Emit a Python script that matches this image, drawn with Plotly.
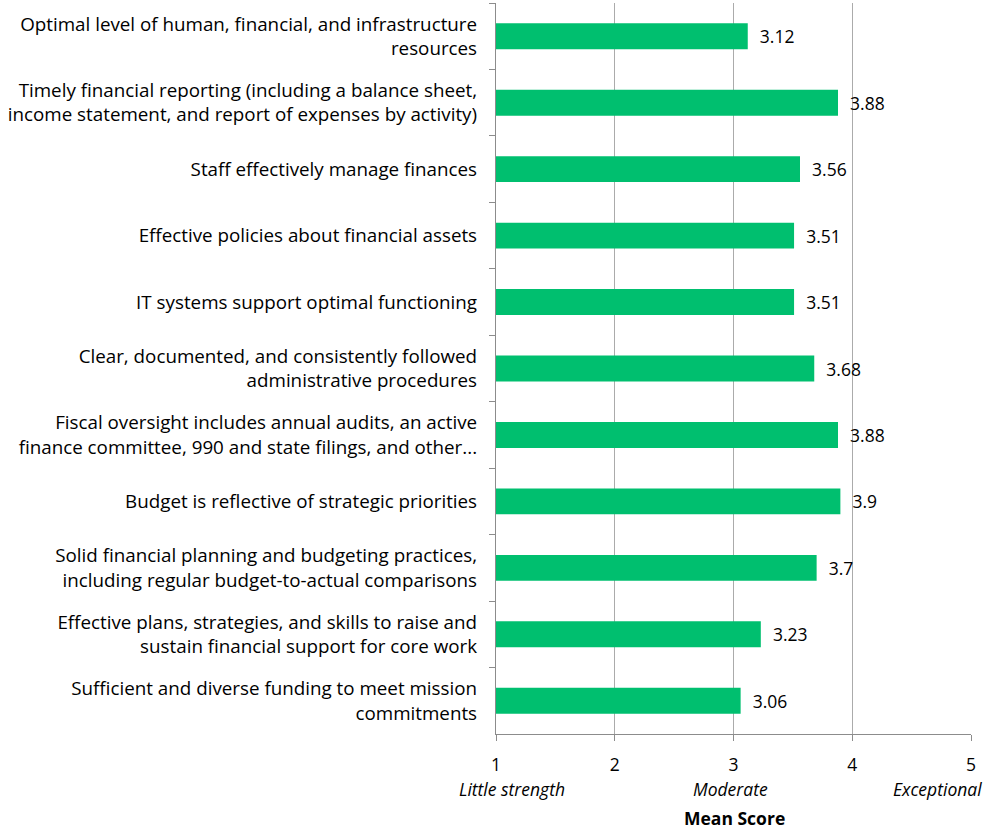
import plotly.graph_objects as go

# Capacity areas (top to bottom) and their mean scores
categories = [
    "Optimal level of human, financial, and infrastructure<br>resources",
    "Timely financial reporting (including a balance sheet,<br>income statement, and report of expenses by activity)",
    "Staff effectively manage finances",
    "Effective policies about financial assets",
    "IT systems support optimal functioning",
    "Clear, documented, and consistently followed<br>administrative procedures",
    "Fiscal oversight includes annual audits, an active<br>finance committee, 990 and state filings, and other...",
    "Budget is reflective of strategic priorities",
    "Solid financial planning and budgeting practices,<br>including regular budget-to-actual comparisons",
    "Effective plans, strategies, and skills to raise and<br>sustain financial support for core work",
    "Sufficient and diverse funding to meet mission<br>commitments",
]
mean_scores = [3.12, 3.88, 3.56, 3.51, 3.51, 3.68, 3.88, 3.9, 3.7, 3.23, 3.06]
score_ticks = [1, 2, 3, 4, 5]
scale_labels = ["Little strength", "Moderate", "Exceptional"]

FONT = "Open Sans"
FS_CAT = 18.8
FS = 17.5
GREEN = "#00BF6F"
GRID = "#ABABAB"
AXIS = "#8C8C8C"

W, H = 985, 832
ML, MR, MT, MB = 496, 14, 3, 98
PW, PH = W - ML - MR, H - MT - MB

fig = go.Figure(
    go.Bar(
        # bars grow from the axis minimum of 1
        x=[v - 1 for v in mean_scores],
        base=1,
        y=categories,
        orientation="h",
        marker=dict(color=GREEN, line=dict(width=0)),
        text=["\u00a0\u00a0" + f"{v:g}" for v in mean_scores],
        textposition="outside",
        textfont=dict(family=FONT, size=FS, color="#000000"),
        cliponaxis=False,
        hoverinfo="skip",
    )
)

fig.update_layout(
    width=W,
    height=H,
    margin=dict(l=ML, r=MR, t=MT, b=MB),
    paper_bgcolor="white",
    plot_bgcolor="white",
    bargap=0.61,
    showlegend=False,
    font=dict(family=FONT, size=FS, color="#000000"),
)

fig.update_xaxes(
    range=[1, 5],
    tickvals=score_ticks,
    ticktext=[str(t) for t in score_ticks],
    showgrid=True,
    gridcolor=GRID,
    gridwidth=1.3,
    zeroline=False,
    showline=True,
    linecolor=AXIS,
    linewidth=1.3,
    ticks="outside",
    ticklen=6,
    tickcolor=AXIS,
    ticklabelstandoff=9,
    tickfont=dict(family=FONT, size=FS, color="#000000"),
)

fig.update_yaxes(
    autorange="reversed",
    showgrid=False,
    showline=True,
    linecolor=AXIS,
    linewidth=1.3,
    ticks="outside",
    tickson="boundaries",
    ticklen=6,
    tickcolor=AXIS,
    ticklabelstandoff=14,
    tickfont=dict(family=FONT, size=FS_CAT, color="#000000"),
)


def px_x(p):
    return (p - ML) / PW


def px_y(p):
    return (H - MB - p) / PH


# scale descriptors under the score axis
for label, xpos, anchor in zip(scale_labels, [512, 730, 984], ["center", "center", "right"]):
    fig.add_annotation(
        text=f"<i>{label}</i>",
        xref="paper", x=px_x(xpos), xanchor=anchor,
        yref="paper", y=px_y(789), yanchor="middle",
        showarrow=False,
        font=dict(family=FONT, size=FS, color="#000000"),
    )

fig.add_annotation(
    text="<b>Mean Score</b>",
    xref="paper", x=px_x(734), xanchor="center",
    yref="paper", y=px_y(818), yanchor="middle",
    showarrow=False,
    font=dict(family=FONT, size=FS, color="#000000"),
)

fig.write_html("out.html")
